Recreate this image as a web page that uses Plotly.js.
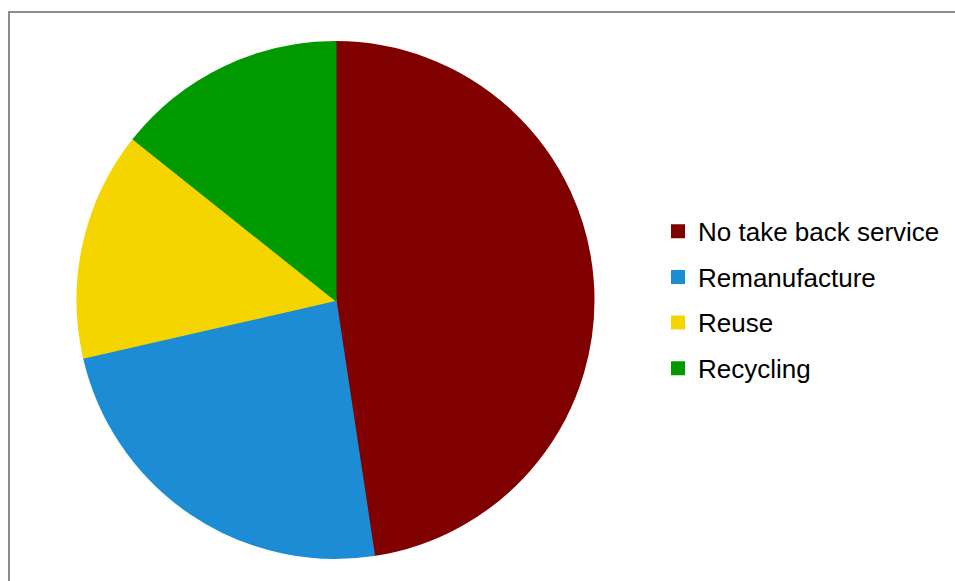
<!DOCTYPE html>
<html>
<head>
<meta charset="utf-8">
<script src="https://cdn.plot.ly/plotly-3.0.1.min.js"></script>
<style>
html, body { margin: 0; padding: 0; background: #ffffff; }
#chart { width: 955px; height: 581px; }
</style>
</head>
<body>
<div id="chart"></div>
<script>
const categories = ["No take back service", "Remanufacture", "Reuse", "Recycling"];
const values = [10, 5, 3, 3];
const colors = ["#800000", "#1c8dd4", "#f5d500", "#009a00"];

const W = 955, H = 581;
const cx = 335.5, cy = 300, r = 258;

const trace = {
  type: "pie",
  labels: categories.map(c => '<span style="font-size:26px;baseline-shift:3.3px">' + c + '</span>'),
  values: values,
  sort: false,
  direction: "clockwise",
  rotation: 0,
  textinfo: "none",
  hoverinfo: "label+value+percent",
  marker: { colors: colors, line: { width: 2, color: colors } },
  domain: {
    x: [(cx - r) / W, (cx + r) / W],
    y: [(H - cy - r) / H, (H - cy + r) / H]
  }
};

const layout = {
  width: W,
  height: H,
  margin: { l: 0, r: 0, t: 0, b: 0, pad: 0 },
  paper_bgcolor: "#ffffff",
  showlegend: true,
  legend: {
    x: 658 / W,
    xanchor: "left",
    y: 1 - 300 / H,
    yanchor: "middle",
    font: { family: "Liberation Sans, Arial, sans-serif", size: 32.8, color: "#000000" },
    bgcolor: "rgba(0,0,0,0)",
    borderwidth: 0
  },
  shapes: [{
    type: "rect",
    xref: "paper", yref: "paper",
    x0: 9 / W, x1: 1.05,
    y0: -0.05, y1: 1 - 12 / H,
    line: { color: "#8c8c8c", width: 2 },
    fillcolor: "rgba(0,0,0,0)",
    layer: "below"
  }]
};

Plotly.newPlot("chart", [trace], layout, { displayModeBar: false, staticPlot: true });
</script>
</body>
</html>
